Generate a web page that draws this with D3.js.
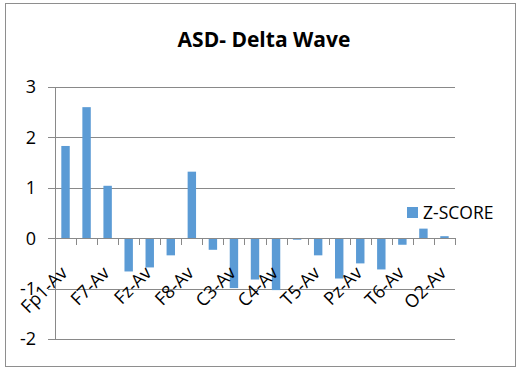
<!DOCTYPE html>
<html><head><meta charset="utf-8">
<script src="https://cdn.jsdelivr.net/npm/d3@7"></script>
<style>
html,body{margin:0;padding:0;background:#fff;}
svg{display:block;}
text{font-family:"Open Sans",sans-serif;fill:#000;}
</style></head>
<body>
<script>
const categories = ["Fp1-Av","Fp2-Av","F7-Av","F3-Av","Fz-Av","F4-Av","F8-Av","T3-Av","C3-Av","Cz-Av","C4-Av","T4-Av","T5-Av","P3-Av","Pz-Av","P4-Av","T6-Av","O1-Av","O2-Av"];
const zScore = [1.83,2.6,1.04,-0.66,-0.58,-0.34,1.32,-0.23,-0.99,-0.82,-1.03,-0.03,-0.34,-0.8,-0.5,-0.62,-0.13,0.19,0.04];
const yTicks = [-2,-1,0,1,2,3];
const seriesName = "Z-SCORE";
const title = "ASD- Delta Wave";

const W = 519, H = 368;
const svg = d3.select("body").append("svg").attr("width", W).attr("height", H);

svg.append("rect").attr("x",5.5).attr("y",3.5).attr("width",510).attr("height",363)
  .attr("fill","#fff").attr("stroke","#8e8e8e").attr("stroke-width",1);

const pLeft = 55, pRight = 455, pTop = 87, pBottom = 339;
const x = d3.scaleBand().domain(categories).range([pLeft, pRight]).paddingInner(0.6).paddingOuter(0.3);
const y = d3.scaleLinear().domain([-2,3]).range([pBottom, pTop]);
const gridColor = "#898989";

// gridlines
svg.append("g").selectAll("line").data(yTicks).join("line")
  .attr("x1", pLeft-7).attr("x2", pRight)
  .attr("y1", d => Math.round(y(d))+0.5).attr("y2", d => Math.round(y(d))+0.5)
  .attr("stroke", gridColor).attr("stroke-width",1);

// y axis line
svg.append("line").attr("x1", pLeft+0.5).attr("x2", pLeft+0.5)
  .attr("y1", y(3)).attr("y2", y(-2)).attr("stroke", gridColor);

// y tick labels
svg.append("g").selectAll("text").data(yTicks).join("text")
  .attr("x", 36).attr("y", d => y(d)).attr("dy","0.35em")
  .attr("text-anchor","end").attr("font-size",18).text(d => d);

// bars
const y0 = y(0);
svg.append("g").selectAll("rect").data(zScore).join("rect")
  .attr("x", (d,i) => x(categories[i]))
  .attr("width", x.bandwidth())
  .attr("y", d => Math.min(y(d), y0))
  .attr("height", d => Math.abs(y(d) - y0))
  .attr("fill", "#5b9bd5");

// x axis (at 0)
const step = x.step();
const xTickPos = d3.range(categories.length+1).map(i => pLeft + i*step);
svg.append("line").attr("x1", pLeft).attr("x2", pRight)
  .attr("y1", Math.round(y0)+0.5).attr("y2", Math.round(y0)+0.5).attr("stroke", gridColor);
svg.append("g").selectAll("line").data(xTickPos).join("line")
  .attr("x1", d => Math.round(d)+0.5).attr("x2", d => Math.round(d)+0.5)
  .attr("y1", Math.round(y0)).attr("y2", Math.round(y0)+7)
  .attr("stroke", gridColor);

// x labels every other category
svg.append("g").selectAll("text").data(categories.filter((c,i)=> i%2===0)).join("text")
  .attr("text-anchor","end").attr("font-size",18)
  .attr("transform", d => `translate(${x(d)+x.bandwidth()/2+3},${y0+36}) rotate(-45)`)
  .text(d => d);

// title
svg.append("text").attr("x", 264).attr("y", 47).attr("text-anchor","middle")
  .attr("font-size",21).attr("font-weight","bold").text(title);

// legend
svg.append("rect").attr("x",407).attr("y",207).attr("width",11).attr("height",11).attr("fill","#5b9bd5");
svg.append("text").attr("x",423).attr("y",219).attr("font-size",17.5).text(seriesName);
</script>
</body></html>
